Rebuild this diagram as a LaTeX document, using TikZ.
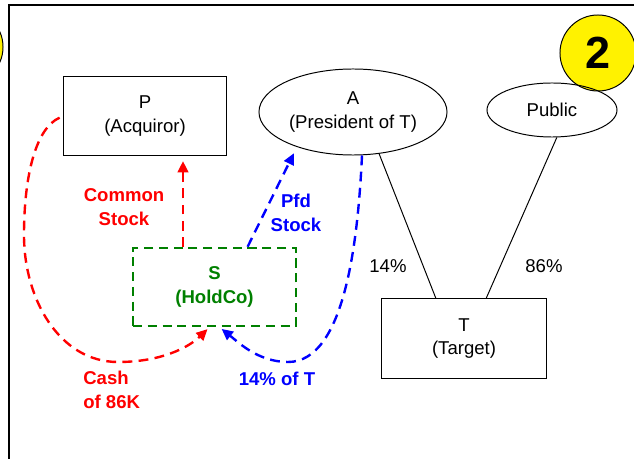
\documentclass[tikz,border=0pt]{standalone}
\usepackage{fontspec}
\setmainfont{Liberation Sans}
\usetikzlibrary{calc,shapes.geometric,arrows.meta}

\begin{document}
\begin{tikzpicture}[x=0.025cm,y=-0.025cm,
		every node/.style={font=\fontsize{13.2}{16.8}\selectfont, align=center, inner sep=0pt},
		box/.style={draw, line width=0.7pt, minimum width=4.05cm, minimum height=1.95cm},
		oval/.style={draw, ellipse, line width=0.7pt},
		badge/.style={draw, circle, fill=yellow, line width=0.7pt, minimum size=1.9cm},
		flow/.style={line width=1.7pt, dash pattern=on 7pt off 4.5pt, -{Triangle[length=8pt,width=7.5pt]}},
		lbl/.style={font=\fontsize{13.2}{17}\selectfont\bfseries}]
		\useasboundingbox (0,0) rectangle (634,459);
		%%%%% START %%%%%
		\node[badge] (prev) at (-35,47) {};
		\node[badge, font=\fontsize{32}{32}\selectfont\bfseries] (two) at (598,53) {2};
		\draw[line width=1.4pt] (9,459) -- (9,5) -- (634,5);
		
		\node[box] (P) at (145,116) {P\\(Acquiror)};
		\node[oval, minimum width=4.7cm, minimum height=2.15cm] (A) at (353,112) {A\\(President of T)};
		\node[oval, minimum width=3.25cm, minimum height=1.35cm] (pub) at (552,110) {Public};
		\node[box, lbl, green!50!black, line width=1.7pt, dash pattern=on 6.5pt off 4pt, minimum width=4.075cm] (S) at (214.5,287) {S\\(HoldCo)};
		\node[box, minimum width=4.1cm, minimum height=1.975cm] (T) at (464,338.5) {T\\(Target)};
		
		\draw[line width=0.7pt] (A.-58) -- ($(T.north west)!0.33!(T.north east)$);
		\draw[line width=0.7pt] (pub.-80) -- ($(T.north west)!0.634!(T.north east)$);
		\node (p14) at (388,266) {14\%};
		\node (p86) at (544,266) {86\%};
		
		\coordinate (cs) at (183,0);
		\draw[flow, red, shorten >=4pt] (S.north -| cs) -- (P.south -| cs);
		\node[lbl, red] (cst) at (124,207) {Common\\Stock};
		
		\draw[flow, blue, shorten >=5pt] ($(S.north west)!0.70!(S.north east)$) -- (A.-148);
		\node[lbl, blue] (pfd) at (296,213) {Pfd\\Stock};
		
		\draw[flow, red, shorten <=3pt, shorten >=2pt] (P.west) .. controls (36,128) and (24,175) .. (24,235)
			.. controls (24,300) and (60,362) .. (118,362)
			.. controls (160,362) and (188,348) .. ($(S.south west)!0.47!(S.south east)$);
		\node[lbl, red, align=left, anchor=west] (cash) at (83,390) {Cash\\of 86K};
		
		\draw[flow, blue, shorten >=2pt] ($(A.south)+(9,0)$) .. controls (358,240) and (345,362) .. (288,362)
			.. controls (258,362) and (238,342) .. ($(S.south west)!0.53!(S.south east)$);
		\node[lbl, blue] (pct) at (277,379) {14\% of T};
		%%%%% END %%%%%
	\end{tikzpicture}
\end{document}
